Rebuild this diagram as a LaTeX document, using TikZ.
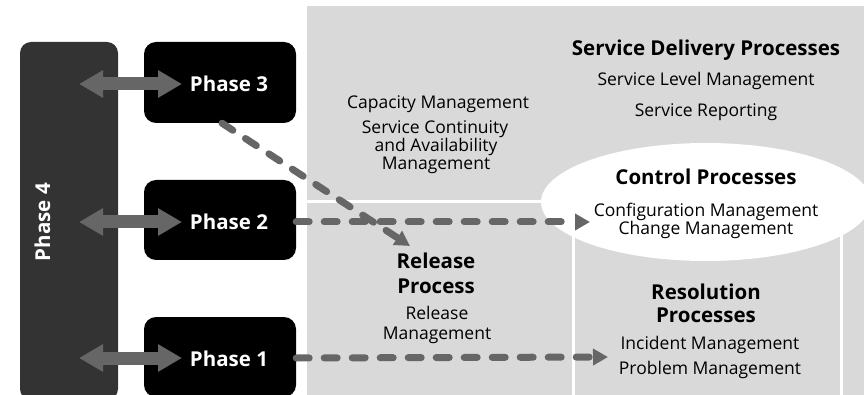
\documentclass[tikz,border=0pt]{standalone}
\usepackage{fontspec}
\setmainfont{Open Sans}
\usetikzlibrary{arrows.meta,shapes.geometric}
\definecolor{panel}{HTML}{D9D9D9}
\definecolor{arrowgray}{HTML}{666666}
\definecolor{darkbar}{HTML}{333333}
\tikzset{
  phasebox/.style={fill=black, draw=none, rounded corners=12pt, inner sep=0pt, minimum width=152pt},
  barbox/.style={fill=darkbar, draw=none, rounded corners=11pt, inner sep=0pt, minimum width=98pt},
  body/.style={font=\fontsize{17.5}{20}\selectfont, anchor=base, inner sep=0pt},
  head/.style={font=\fontsize{20.5}{24}\selectfont\bfseries, anchor=base, inner sep=0pt},
  phasetxt/.style={font=\fontsize{20.5}{24}\selectfont\bfseries, text=white, anchor=base, inner sep=0pt},
  dblarrow/.style={draw=arrowgray, line width=13pt, arrows={Triangle[length=24pt,width=26pt]-Triangle[length=24pt,width=26pt]}},
  dasharrow/.style={draw=arrowgray, line width=7pt, line cap=round, dash pattern=on 13pt off 15pt, arrows={-Triangle[length=15pt,width=16pt]}},
  divider/.style={draw=white, line width=3pt}
}
\begin{document}
\begin{tikzpicture}[x=1pt,y=-1pt]
\useasboundingbox (0,0) rectangle (864,395);
\clip (0,0) rectangle (864,395);
% panel
\fill[panel] (307,6) rectangle (870,400);
\draw[divider] (307,202) -- (600,202);
\draw[divider] (573,202) -- (573,400);
\draw[divider] (841,200) -- (841,400);
\node[fill=white, draw=none, ellipse, minimum width=330pt, minimum height=118pt, inner sep=0pt] (ctl) at (706,202) {};
% left column
\node[barbox, minimum height=358pt] (p4) at (69,221) {};
\node[phasebox, minimum height=81pt] (p3) at (220,82.5) {};
\node[phasebox, minimum height=80pt] (p2) at (220,220) {};
\node[phasebox, minimum height=80pt] (p1) at (220,357) {};
\node[font=\fontsize{20.5}{24}\selectfont\bfseries, text=white, rotate=90, anchor=base, inner sep=0pt] (p4t) at (50,222) {Phase 4};
\node[phasetxt] (p3t) at (229,92) {Phase 3};
\node[phasetxt] (p2t) at (229,230) {Phase 2};
\node[phasetxt] (p1t) at (229,366) {Phase 1};
% double arrows
\coordinate (l3) at (79,84);  \coordinate (r3) at (182,84);
\coordinate (l2) at (79,222); \coordinate (r2) at (182,222);
\coordinate (l1) at (79,358); \coordinate (r1) at (182,358);
\draw[dblarrow] (l3) -- (r3);
\draw[dblarrow] (l2) -- (r2);
\draw[dblarrow] (l1) -- (r1);
% texts
\node[head] (sdp) at (706,56) {Service Delivery Processes};
\node[body] (slm) at (706,86) {Service Level Management};
\node[body] (srp) at (706,117) {Service Reporting};
\node[body] (cap) at (438,109) {Capacity Management};
\node[body] (sc1) at (435,134) {Service Continuity};
\node[body] (sc2) at (436,152) {and Availability};
\node[body] (sc3) at (436,170) {Management};
\node[head] (ctlt) at (706,185) {Control Processes};
\node[body] (cfg) at (706,217) {Configuration Management};
\node[body] (chg) at (706,235) {Change Management};
\node[head] (rel1) at (436,269) {Release};
\node[head] (rel2) at (436,293) {Process};
\node[body] (rm1) at (437,319) {Release};
\node[body] (rm2) at (437,339) {Management};
\node[head] (res1) at (706,299) {Resolution};
\node[head] (res2) at (706,322) {Processes};
\node[body] (inc) at (710,349) {Incident Management};
\node[body] (prb) at (710,374) {Problem Management};
% dashed arrows
\coordinate (relTip) at (410,246);
\coordinate (ctlTip) at (590,222);
\coordinate (resTip) at (608,357);
\draw[dasharrow] ([xshift=2pt]p3.south) -- (relTip);
\draw[dasharrow] ([yshift=-2pt]p2.east) -- (ctlTip);
\draw[dasharrow] ([yshift=-1pt]p1.east) -- (resTip);
\end{tikzpicture}
\end{document}
